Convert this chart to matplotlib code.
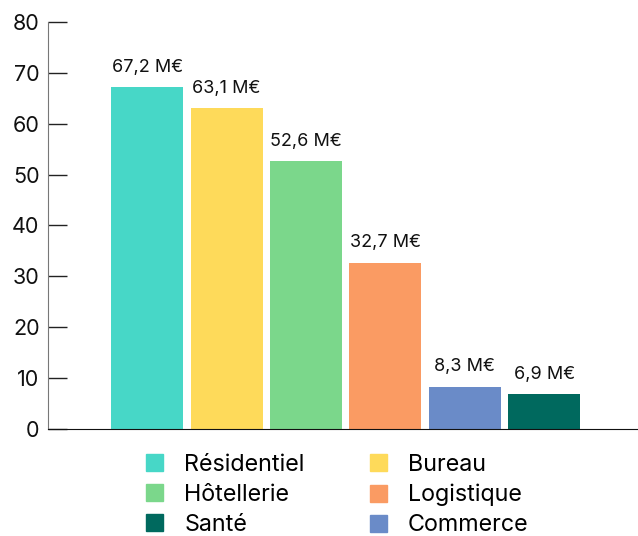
import matplotlib.pyplot as plt
from matplotlib.patches import Patch

plt.rcParams['font.family'] = ['Inter', 'DejaVu Sans']

categories = ["Résidentiel", "Bureau", "Hôtellerie", "Logistique", "Commerce", "Santé"]
values = [67.2, 63.1, 52.6, 32.7, 8.3, 6.9]
labels = ["67,2 M€", "63,1 M€", "52,6 M€", "32,7 M€", "8,3 M€", "6,9 M€"]
colors = ["#47D7C7", "#FEDA5A", "#7BD78B", "#FA9B63", "#6A8BC8", "#00695E"]

fig = plt.figure(figsize=(6.38, 5.36), dpi=100)
ax = fig.add_axes([0.075, 0.2, 0.925, 0.759])

x = range(len(categories))
bars = ax.bar(x, values, width=0.907, color=colors)
for b, lab in zip(bars, labels):
    ax.annotate(lab, (b.get_x() + b.get_width() / 2, b.get_height()),
                xytext=(0, 8), textcoords="offset points",
                ha="center", va="bottom", fontsize=13, color="#111111")

ax.set_xlim(-1.25, 6.18)
ax.set_ylim(0, 80)
ax.set_yticks(range(0, 81, 10))
ax.set_xticks([])
ax.tick_params(axis="y", direction="in", length=14, width=1, color="#222222",
               labelsize=15.5, pad=6)
for lab in ax.get_yticklabels():
    lab.set_color("#111111")
ax.spines["top"].set_visible(False)
ax.spines["right"].set_visible(False)
ax.spines["left"].set_color("#777777")
ax.spines["bottom"].set_color("#111111")

# legend fills column-wise, so order handles to read row by row
order = [0, 2, 5, 1, 3, 4]
handles = [Patch(color=colors[i], label=categories[i]) for i in order]
fig.legend(handles=handles, ncol=2, loc="upper left", bbox_to_anchor=(0.229, 0.153),
           frameon=False, fontsize=16.8, handlelength=0.73, handleheight=0.73,
           handletextpad=0.9, columnspacing=2.8, labelspacing=0.34,
           borderaxespad=0, borderpad=0)

fig.savefig("out.png", dpi=100)
